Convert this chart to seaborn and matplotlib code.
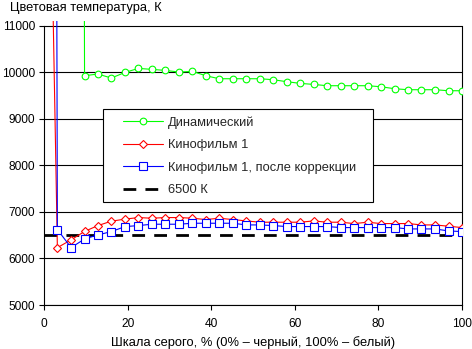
import numpy as np
import pandas as pd
import matplotlib
matplotlib.use("Agg")
import matplotlib.pyplot as plt
from matplotlib.patches import Rectangle
import seaborn as sns

# ---- data ----
gray_pct = [0, 3.2, 6.5, 9.7, 12.9, 16.1, 19.4, 22.6, 25.8, 29.0, 32.3, 35.5,
            38.7, 41.9, 45.2, 48.4, 51.6, 54.8, 58.1, 61.3, 64.5, 67.7, 71.0,
            74.2, 77.4, 80.6, 83.9, 87.1, 90.3, 93.5, 96.8, 100]

dynamic = [np.nan, np.nan, 120000, 9925, 9961, 9875, 9996, 10082, 10061, 10039,
           10004, 10018, 9925, 9860, 9860, 9860, 9860, 9839, 9796, 9760, 9738,
           9710, 9710, 9710, 9710, 9688, 9645, 9624, 9624, 9624, 9602, 9602]

film1 = [22000, 6232, 6400, 6580, 6706, 6800, 6845, 6878, 6864, 6878, 6878,
         6864, 6835, 6864, 6835, 6806, 6778, 6778, 6778, 6778, 6806, 6778,
         6778, 6749, 6778, 6749, 6749, 6749, 6720, 6720, 6692, 6663]

film1_corr = [120000, 6620, 6232, 6419, 6505, 6577, 6684, 6706, 6735, 6735, 6735,
              6756, 6756, 6756, 6756, 6720, 6720, 6706, 6685, 6685, 6685, 6685,
              6663, 6663, 6663, 6663, 6663, 6634, 6634, 6634, 6591, 6577]

target_x = [0, 100]
target_y = [6500, 6500]

labels = ["Динамический", "Кинофильм 1", "Кинофильм 1, после коррекции", "6500 К"]
x_ticks = [0, 20, 40, 60, 80, 100]
y_ticks = [5000, 6000, 7000, 8000, 9000, 10000, 11000]
title = "Цветовая температура, К"
xlabel = "Шкала серого, % (0% – черный, 100% – белый)"

# ---- style ----
sns.set_style("white")
plt.rcParams["font.family"] = ["Liberation Sans", "DejaVu Sans"]
FS_TICK = 8.6
FS_TEXT = 9.3

W, H = 472, 349
fig = plt.figure(figsize=(W / 100, H / 100), dpi=100)
ax = fig.add_axes([44 / W, 1 - 305 / H, 418 / W, 284 / H])

common = dict(ax=ax, errorbar=None, estimator=None, linewidth=0.8,
              markeredgewidth=0.8, markerfacecolor="white")

sns.lineplot(x=gray_pct, y=dynamic, color="#00ff00", marker="o", markersize=4.8,
             markeredgecolor="#00ff00", label=labels[0], zorder=3, **common)
sns.lineplot(x=gray_pct, y=film1, color="#ff0000", marker="D", markersize=4.2,
             markeredgecolor="#ff0000", label=labels[1], zorder=3, **common)
sns.lineplot(x=gray_pct, y=film1_corr, color="#0000ff", marker="s", markersize=5.8,
             markeredgecolor="#0000ff", label=labels[2], zorder=3.1, **common)
sns.lineplot(x=target_x, y=target_y, color="black", linewidth=2.0,
             dashes=False, label=labels[3], ax=ax, zorder=2.5, errorbar=None)
ax.lines[-1].set_dashes([4.6, 3.3])

ax.set_xlim(0, 100)
ax.set_ylim(5000, 11100)
ax.set_xticks(x_ticks)
ax.set_yticks(y_ticks)
ax.set_xticklabels([str(v) for v in x_ticks])
ax.set_yticklabels([str(v) for v in y_ticks])

ax.set_axisbelow(True)
ax.yaxis.grid(True, color="black", linewidth=0.8)
ax.xaxis.grid(False)

for side in ["left", "right", "bottom"]:
    ax.spines[side].set_visible(True)
    ax.spines[side].set_color("black")
    ax.spines[side].set_linewidth(0.8)
ax.spines["top"].set_visible(False)
ax.spines["left"].set_bounds(5000, 11000)
ax.spines["right"].set_bounds(5000, 11000)

ax.tick_params(axis="both", which="major", direction="out", length=3.6,
               width=0.8, color="black", labelsize=FS_TICK, labelcolor="black")
ax.tick_params(axis="y", pad=3, left=True, right=False)
ax.tick_params(axis="x", pad=6, bottom=True, top=False)

ax.set_xlabel(xlabel, fontsize=FS_TEXT, labelpad=4, color="black")
ax.set_ylabel("")
fig.text(10 / W, 1 - 10.5 / H, title, fontsize=FS_TEXT, ha="left", va="baseline",
         color="black")

# legend box
ax_h = 284.0
def fx(px):
    return (px - 44) / 418.0
def fy(py):
    return (305 - py) / ax_h

box = Rectangle((fx(102.7), fy(201.7)), fx(372.7) - fx(102.7),
                fy(109.3) - fy(201.7), transform=ax.transAxes,
                facecolor="white", edgecolor="black", linewidth=0.8, zorder=4)
ax.add_patch(box)

handles, labs = ax.get_legend_handles_labels()
leg = ax.legend(handles, labs, loc="upper left", bbox_to_anchor=(fx(123), fy(116.5)),
                frameon=False, borderpad=0, borderaxespad=0, handlelength=3.1,
                handletextpad=0.4, labelspacing=0.8, fontsize=FS_TEXT, numpoints=1)
leg.set_zorder(5)

fig.savefig("out.png", dpi=100, facecolor="white")
